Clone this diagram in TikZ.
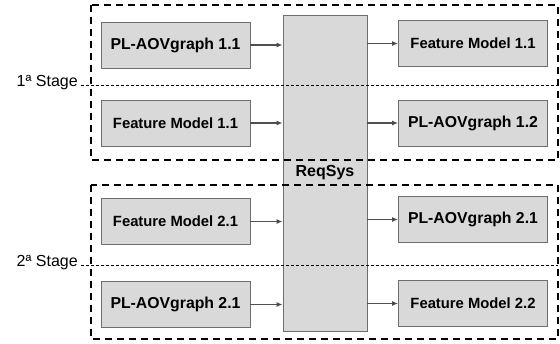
\documentclass[tikz,border=0pt]{standalone}
\usepackage{fontspec}
\setmainfont{Liberation Sans}
\usetikzlibrary{arrows.meta}
\definecolor{boxfill}{HTML}{D9D9D9}
\definecolor{boxline}{HTML}{6E6E6E}
\definecolor{arrline}{HTML}{505050}
\tikzset{
  mbox/.style={draw=boxline, fill=boxfill, line width=0.9pt, minimum width=149pt, minimum height=46pt, inner sep=0pt, font=\bfseries},
  plfont/.style={font=\bfseries\fontsize{15.8}{18}\selectfont},
  fmfont/.style={font=\bfseries\fontsize{14.8}{17}\selectfont},
  conn/.style={draw=arrline, line width=1.1pt, -{Latex[length=6pt,width=5pt,fill=black]}},
  stagebox/.style={draw=black, line width=2pt, dash pattern=on 7pt off 5pt},
  midline/.style={draw=black, line width=0.8pt, dash pattern=on 3pt off 2pt},
  stagelabel/.style={font=\fontsize{16}{19}\selectfont, inner sep=0pt}
}
\begin{document}
\begin{tikzpicture}[x=1pt,y=-1pt]
\useasboundingbox[fill=white] (0,0) rectangle (560,344);
% ReqSys box
\node[draw=boxline, fill=boxfill, line width=0.9pt, minimum width=84pt, minimum height=316pt, inner sep=0pt] (req) at (325,173) {};
% Stage boxes
\draw[stagebox] (91,5) rectangle (558,160);
\draw[stagebox] (91,185) rectangle (558,339);
\coordinate (m1a) at (81,85); \coordinate (m1b) at (558,85);
\coordinate (m2a) at (81,265); \coordinate (m2b) at (558,265);
\draw[midline] (m1a) -- (m1b);
\draw[midline] (m2a) -- (m2b);
\node[font=\bfseries\fontsize{16}{19}\selectfont, inner sep=0pt] (reqlabel) at (325,173) {ReqSys};
\node[stagelabel, anchor=east] (s1) at (78,83) {1ª Stage};
\node[stagelabel, anchor=east] (s2) at (78,263) {2ª Stage};
% Left boxes
\node[mbox, plfont] (l1) at (175.5,45) {PL-AOVgraph 1.1};
\node[mbox, fmfont] (l2) at (175.5,123) {Feature Model 1.1};
\node[mbox, fmfont] (l3) at (175.5,221.5) {Feature Model 2.1};
\node[mbox, plfont] (l4) at (175.5,304.5) {PL-AOVgraph 2.1};
% Right boxes
\node[mbox, fmfont] (r1) at (473,43.5) {Feature Model 1.1};
\node[mbox, plfont] (r2) at (473,123) {PL-AOVgraph 1.2};
\node[mbox, plfont] (r3) at (473,219.5) {PL-AOVgraph 2.1};
\node[mbox, fmfont] (r4) at (473,303.5) {Feature Model 2.2};
% Connectors
\draw[conn] (l1.east) -- (l1.east -| req.west);
\draw[conn] (l2.east) -- (l2.east -| req.west);
\draw[conn] (l3.east) -- (l3.east -| req.west);
\draw[conn] (l4.east) -- (l4.east -| req.west);
\draw[conn] (r1.west -| req.east) -- (r1.west);
\draw[conn] (r2.west -| req.east) -- (r2.west);
\draw[conn] (r3.west -| req.east) -- (r3.west);
\draw[conn] (r4.west -| req.east) -- (r4.west);
\end{tikzpicture}
\end{document}
